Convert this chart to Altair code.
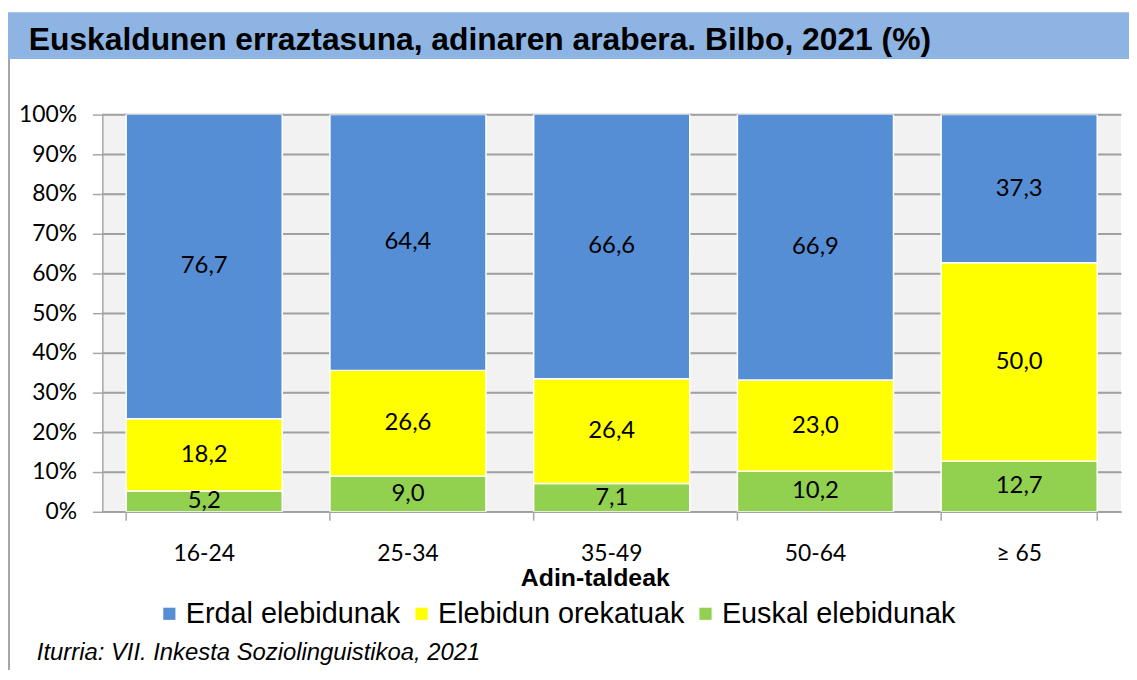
import altair as alt
import pandas as pd

TITLE = "Euskaldunen erraztasuna, adinaren arabera. Bilbo, 2021 (%)"
SOURCE = "Iturria: VII. Inkesta Soziolinguistikoa, 2021"
X_TITLE = "Adin-taldeak"

categories = ["16-24", "25-34", "35-49", "50-64", "≥ 65"]
series = ["Erdal elebidunak", "Elebidun orekatuak", "Euskal elebidunak"]
colors = ["#558ED5", "#FFFF00", "#92D050"]
erdal = [76.7, 64.4, 66.6, 66.9, 37.3]
orekatu = [18.2, 26.6, 26.4, 23.0, 50.0]
euskal = [5.2, 9.0, 7.1, 10.2, 12.7]
y_ticks = [0, 10, 20, 30, 40, 50, 60, 70, 80, 90, 100]

rows = []
for i, c in enumerate(categories):
    for ordv, (s, vals) in enumerate([(series[2], euskal), (series[1], orekatu), (series[0], erdal)]):
        rows.append({"cat": c, "series": s, "value": vals[i], "ord": ordv})
df = pd.DataFrame(rows)

W, H = 1026, 400

xscale = alt.Scale(domain=categories, paddingInner=0.234, paddingOuter=0.117)
yscale = alt.Scale(domain=[0, 100], nice=False)

yaxis = alt.Axis(title=None, values=y_ticks, labelExpr="datum.value + '%'",
                 labelFont="Lato", labelFontSize=23, labelColor="black", labelOverlap=False,
                 tickSize=10, tickColor="#A6A6A6", tickWidth=1.5, labelPadding=16,
                 domainColor="#A6A6A6", domainWidth=1.5,
                 grid=True, gridColor="#A0A0A0", gridWidth=1.5)

grid = alt.Chart(pd.DataFrame({"v": y_ticks})).mark_rule(color="#A0A0A0", strokeWidth=1.5).encode(
    y=alt.Y("v:Q", scale=yscale, axis=yaxis),
)

base = alt.Chart(df).transform_stack(
    stack="value", groupby=["cat"], as_=["y0", "y1"], sort=[alt.SortField("ord")]
).transform_calculate(
    mid="(datum.y0 + datum.y1) / 2",
    lbl="replace(format(datum.value, '.1f'), '.', ',')",
)

bars = base.mark_bar(stroke="white", strokeWidth=1.5, clip=True).encode(
    x=alt.X("cat:N", scale=xscale, sort=categories,
            axis=alt.Axis(title=X_TITLE, labelFont="Lato", labelFontSize=23, labelColor="black",
                          ticks=False, tickSize=0, labelPadding=31, domainColor="#A6A6A6",
                          domainWidth=1.5, labelAngle=0,
                          titleFont="Liberation Sans", titleFontSize=25, titleFontWeight="bold",
                          titleColor="black", titleX=496, titleY=74, titleBaseline="alphabetic")),
    y=alt.Y("y0:Q", scale=yscale, axis=yaxis),
    y2="y1:Q",
    color=alt.Color("series:N", scale=alt.Scale(domain=series, range=colors),
                    legend=alt.Legend(title=None, orient="none", legendX=53, legendY=488,
                                      direction="horizontal", symbolType="square", symbolSize=150,
                                      symbolStrokeWidth=0, labelFont="Liberation Sans",
                                      labelFontSize=29, labelColor="black", labelOffset=2,
                                      labelLimit=0, columnPadding=6, padding=0)),
)

labels = base.mark_text(font="Lato", fontSize=24, color="black", baseline="middle").encode(
    x=alt.X("cat:N", scale=xscale, sort=categories),
    y=alt.Y("mid:Q", scale=yscale, axis=yaxis),
    text="lbl:N",
)

tick_df = pd.DataFrame({"cat": categories})
xticks = alt.Chart(tick_df).mark_rule(color="#A6A6A6", strokeWidth=1.5).encode(
    x=alt.X("cat:N", scale=xscale, sort=categories, bandPosition=0),
    y=alt.value(H), y2=alt.value(H + 9),
)
xtick_end = alt.Chart(tick_df.tail(1)).mark_rule(color="#A6A6A6", strokeWidth=1.5).encode(
    x=alt.X("cat:N", scale=xscale, sort=categories, bandPosition=1),
    y=alt.value(H), y2=alt.value(H + 9),
)

tdf = pd.DataFrame({"t": [TITLE]})
band = alt.Chart(tdf).mark_rect(color="#8DB4E2").encode(
    x=alt.value(-95), x2=alt.value(1034), y=alt.value(-103), y2=alt.value(-56)
)
title = alt.Chart(tdf).mark_text(font="Liberation Sans", fontSize=32, fontWeight="bold",
                                 color="black", align="left", baseline="alphabetic").encode(
    x=alt.value(-74), y=alt.value(-65), text="t:N"
)
border = alt.Chart(tdf).mark_rule(color="#A6A6A6", strokeWidth=2).encode(
    x=alt.value(-94), y=alt.value(-56), y2=alt.value(560)
)
sdf = pd.DataFrame({"s": [SOURCE]})
source = alt.Chart(sdf).mark_text(font="Liberation Sans", fontSize=24, fontStyle="italic",
                                  color="black", align="left", baseline="alphabetic").encode(
    x=alt.value(-66), y=alt.value(549), text="s:N"
)

chart = alt.layer(grid, band, border, title, bars, labels, xticks, xtick_end, source).properties(
    width=W, height=H,
    autosize=alt.AutoSizeParams(type="none"),
    padding={"left": 95, "top": 105, "right": 8, "bottom": 157},
    background="white",
).configure_view(fill="#F2F2F2", stroke=None)

chart.save("out.html", embed_options={"renderer": "svg", "actions": False})
